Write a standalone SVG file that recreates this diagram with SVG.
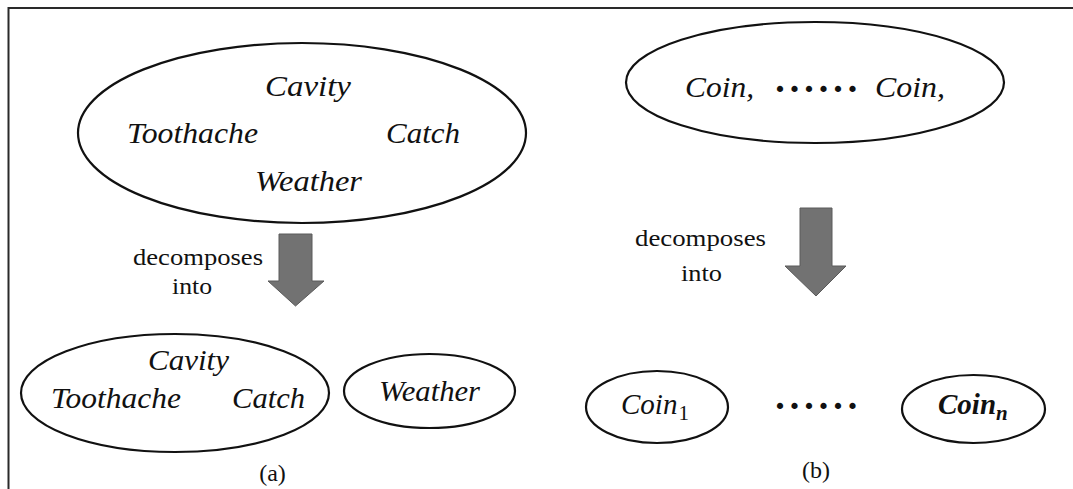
<svg xmlns="http://www.w3.org/2000/svg" width="1073" height="489" viewBox="0 0 1073 489">
<style>
.frame{fill:none;stroke:#2a2a2a;stroke-width:2}
.ell{fill:#fff;stroke:#111;stroke-width:2.2}
.var{font-family:"Liberation Serif",serif;font-style:italic;font-size:29px;fill:#111}
.lbl{font-family:"Liberation Serif",serif;font-size:24px;fill:#111}
.cap{font-family:"Liberation Serif",serif;font-size:24px;fill:#111;text-anchor:middle}
.dots{font-family:"Liberation Serif",serif;font-size:38px;font-weight:bold;fill:#111;text-anchor:middle}
.arrow{fill:#727272;stroke:#5a5a5a;stroke-width:1}
</style>
<rect width="1073" height="489" fill="#fff"/>
<path class="frame" d="M8.5,489 V8 H1073"/>

<g id="joint-a">
<ellipse class="ell" cx="302" cy="133" rx="224" ry="90"/>
<text class="var" x="265" y="96" textLength="86" lengthAdjust="spacingAndGlyphs">Cavity</text>
<text class="var" x="127" y="143" textLength="131" lengthAdjust="spacingAndGlyphs">Toothache</text>
<text class="var" x="386" y="143" textLength="74" lengthAdjust="spacingAndGlyphs">Catch</text>
<text class="var" x="255" y="191" textLength="107" lengthAdjust="spacingAndGlyphs">Weather</text>
</g>

<g id="part-a1">
<ellipse class="ell" cx="175" cy="393" rx="154" ry="59"/>
<text class="var" x="148" y="370" textLength="81" lengthAdjust="spacingAndGlyphs">Cavity</text>
<text class="var" x="51" y="408" textLength="130" lengthAdjust="spacingAndGlyphs">Toothache</text>
<text class="var" x="232" y="408" textLength="73" lengthAdjust="spacingAndGlyphs">Catch</text>
</g>

<g id="part-a2">
<ellipse class="ell" cx="429.5" cy="391" rx="85.5" ry="37"/>
<text class="var" x="379" y="401" textLength="101" lengthAdjust="spacingAndGlyphs">Weather</text>
</g>

<g id="joint-b">
<ellipse class="ell" cx="815" cy="82.5" rx="189" ry="60.5"/>
<text class="var" x="685" y="97" textLength="69" lengthAdjust="spacingAndGlyphs">Coin,</text>
<text class="dots" x="780 794.5 809 823.5 838 852.5" y="92">......</text>
<text class="var" x="875" y="97" textLength="70" lengthAdjust="spacingAndGlyphs">Coin,</text>
</g>

<g id="part-b1">
<ellipse class="ell" cx="657" cy="407" rx="71" ry="36"/>
<text class="var" x="621" y="414" font-size="31">Coin<tspan font-style="normal" font-size="21" dx="1" dy="6">1</tspan></text>
</g>

<g id="dots-b">
<text class="dots" x="780 794.5 809 823.5 838 852.5" y="409">......</text>
</g>

<g id="part-bn">
<ellipse class="ell" cx="973.5" cy="409" rx="71.5" ry="34" stroke-width="2.8"/>
<text class="var" x="938" y="414" font-size="30" font-weight="bold">Coin<tspan font-size="21" dy="6">n</tspan></text>
</g>

<g id="connectors">
<path class="arrow" d="M279,234 H312 V281 H324 L295.5,306 L268,281 H279 Z"/>
<path class="arrow" d="M800,208 H832 V266 H846 L816,296 L785,266 H800 Z"/>
</g>

<g id="labels">
<text class="lbl" x="133" y="265" textLength="130" lengthAdjust="spacingAndGlyphs">decomposes</text>
<text class="lbl" x="172" y="294" textLength="40" lengthAdjust="spacingAndGlyphs">into</text>
<text class="lbl" x="635" y="245.5" textLength="131" lengthAdjust="spacingAndGlyphs">decomposes</text>
<text class="lbl" x="681" y="281" textLength="41" lengthAdjust="spacingAndGlyphs">into</text>
<text class="cap" x="272.5" y="481">(a)</text>
<text class="cap" x="816" y="478">(b)</text>
</g>
</svg>
